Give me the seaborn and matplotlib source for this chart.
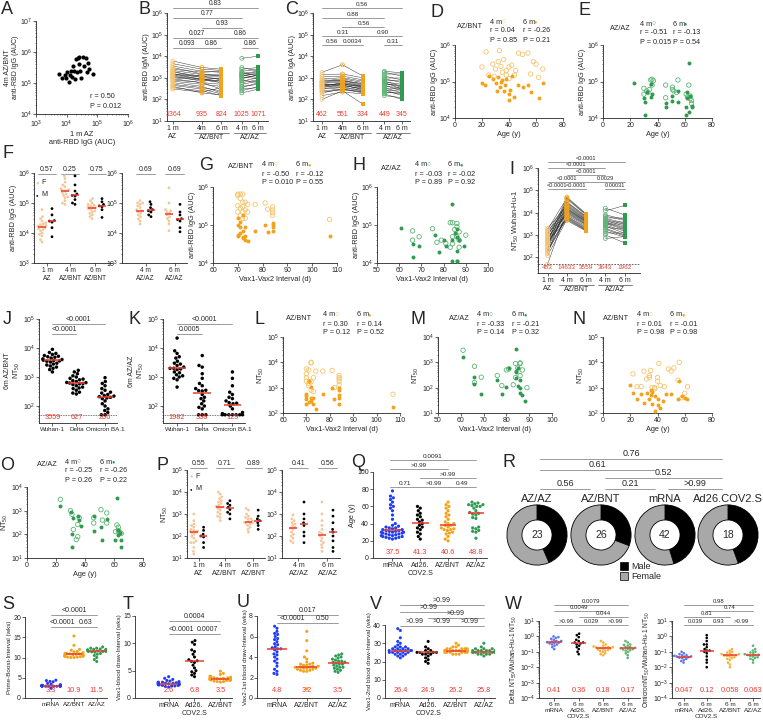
import warnings
import numpy as np
import pandas as pd
import seaborn as sns
import matplotlib.pyplot as plt
from matplotlib.patches import Patch

warnings.filterwarnings("ignore")

ORANGE = "#F2A31B"
ORANGE_L = "#F7C46E"
GREEN = "#2F9A50"
GREEN_L = "#5DB574"
PEACH = "#F4C79B"
BLUE = "#1E3CF5"
RED = "#EC3B2E"
GREY = "#A8A8A8"

# ---------------- data ----------------
# A: 1 m AZ IgG vs 4 m AZ/BNT IgG
A_1m = [5.5e3, 7e3, 8.5e3, 9.5e3, 1.0e4, 1.2e4, 1.3e4, 1.4e4, 1.5e4, 1.6e4, 1.7e4, 1.9e4, 2.0e4,
        2.1e4, 2.3e4, 2.5e4, 2.6e4, 2.8e4, 3.0e4, 3.4e4, 3.8e4, 4.2e4, 4.5e4, 5.0e4, 5.5e4, 7.0e4]
A_4m = [1.9e5, 1.4e5, 1.8e5, 1.5e5, 2.2e5, 1.1e5, 1.8e5, 2.4e5, 1.6e5, 3.5e5, 2.5e5, 1.3e5, 6e5,
        2.3e5, 6.5e5, 4e5, 7e5, 2.4e5, 1.4e5, 7e5, 3.5e5, 6.5e5, 2.2e5, 4.5e5, 2.8e5, 2.0e5]

# B: IgM, paired
B_1m = [6000, 1500, 4500, 900, 3500, 1100, 3000, 700, 2500, 2200, 450, 2000, 1800, 1600, 600, 1400,
        1300, 1200, 350, 1000, 800, 500, 400, 300]
B_4m = [3000, 1200, 2500, 600, 2000, 900, 1500, 500, 1800, 1400, 300, 1000, 1200, 800, 400, 1100,
        900, 700, 250, 800, 600, 350, 200, 220]
B_6m = [2500, 800, 2200, 300, 1800, 600, 1200, 400, 2000, 1500, 180, 900, 1300, 1000, 200, 1100,
        700, 800, 150, 600, 500, 250, 160, 350]
B_az4 = [8000, 3000, 2500, 2000, 1800, 1500, 1400, 1300, 1200, 1100, 1000, 900, 800, 700, 600, 500,
         400, 350, 300, 250, 200, 1600]
B_az6 = [10000, 2000, 3000, 2500, 1200, 1800, 1000, 1500, 1700, 900, 1300, 1400, 600, 1000, 800, 700,
         500, 600, 350, 400, 300, 2000]
B_gm = ["1364", "935", "824", "1025", "1071"]

# C: IgA, paired
C_1m = [1800, 400, 1400, 700, 1100, 200, 900, 650, 800, 100, 600, 480, 550, 450, 420, 380, 350, 320,
        300, 250, 220, 150, 500]
C_4m = [4000, 600, 1500, 900, 1200, 300, 1000, 800, 750, 250, 700, 520, 650, 550, 450, 420, 500, 380,
        350, 300, 280, 220, 480]
C_6m = [1200, 400, 1000, 600, 800, 200, 700, 500, 450, 60, 550, 350, 420, 380, 300, 330, 400, 260,
        250, 230, 220, 180, 280]
C_az4 = [2000, 1800, 1500, 1200, 1000, 900, 800, 700, 650, 600, 550, 500, 450, 400, 350, 300, 280,
         250, 220, 200, 180, 150]
C_az6 = [1700, 1200, 1500, 800, 1000, 600, 700, 400, 500, 300, 380, 450, 250, 350, 200, 320, 150, 280,
         180, 220, 100, 120]
C_gm = ["462", "551", "334", "449", "345"]

# D: AZ/BNT IgG vs age
D_age4 = [20, 23, 25, 28, 30, 32, 33, 35, 36, 38, 40, 40, 42, 44, 47, 50, 54, 56, 58, 60, 62, 65, 38, 34, 45, 29]
D_igg4 = [2.5e5, 6.5e5, 1.5e5, 3e5, 2.2e5, 3.5e5, 7e5, 1.8e5, 4e5, 1.5e5, 2.5e5, 1.2e5, 2.8e5, 1.5e5,
          6e5, 5.5e5, 6e5, 1.6e5, 3.5e5, 3e5, 1.3e5, 2.2e5, 2.0e5, 2.6e5, 2.0e5, 1.4e5]
D_age6 = [20, 22, 25, 28, 30, 32, 33, 35, 36, 38, 40, 40, 41, 44, 47, 50, 54, 56, 62, 65, 34, 31, 37, 42]
D_igg6 = [9e4, 8e4, 1.4e5, 1.2e5, 9e4, 1.3e5, 7e4, 1.1e5, 5.5e4, 1.2e5, 4.5e4, 3.2e4, 6e4, 3.8e4, 8e4,
          7e4, 8e4, 5e4, 3.5e4, 9e4, 1.0e5, 5.5e4, 8e4, 1.4e5]

# E: AZ/AZ IgG vs age
E_age4 = [30, 32, 33, 35, 36, 37, 46, 46, 51, 51, 55, 54, 63, 64, 64, 65, 65, 62, 61, 34, 30, 52, 36]
E_igg4 = [6.5e4, 5.5e4, 5e4, 1.1e5, 8e4, 1.05e5, 8e4, 3.6e4, 7e4, 6e4, 1.1e5, 5e4, 8e4, 4e4, 3.4e4,
          3e4, 2.5e4, 3.8e4, 4.5e4, 6e4, 4.5e4, 5.5e4, 1.15e5]
E_age6 = [23, 30, 31, 31, 32, 35, 35, 36, 46, 46, 51, 51, 55, 55, 61, 61, 62, 63, 63, 64, 65, 65, 62]
E_igg6 = [9e4, 3.5e4, 1.2e4, 2.8e4, 5e4, 8.5e4, 3.8e4, 4.5e4, 2.6e4, 2e4, 4e4, 3e4, 5.5e4, 2.8e4,
          1.2e4, 2e4, 5e4, 3.3e5, 1.5e4, 4e4, 2e4, 2.2e4, 3.5e4]

# F: IgG by sex
F_1m_F = [6e4, 3.5e4, 3e4, 2.5e4, 2.2e4, 2e4, 1.9e4, 1.8e4, 1.7e4, 1.6e4, 1.5e4, 1.4e4, 1.3e4, 1.2e4,
          1e4, 9e3, 8e3, 6e3, 5e3]
F_1m_M = [6.5e4, 4e4, 2.6e4, 2.5e4, 2.3e4, 1.5e4, 7.5e3]
F_4m_F = [8e5, 6.5e5, 5e5, 4e5, 3.5e5, 3e5, 2.8e5, 2.6e5, 2.5e5, 2.2e5, 2e5, 1.8e5, 1.6e5, 1.5e5,
          1.2e5, 1e5, 9e4, 2.7e5]
F_4m_M = [8e5, 4e5, 2.5e5, 2e5, 1.8e5, 1.7e5, 1.3e5, 1.0e5, 9e4]
F_6m_F = [1.4e5, 1.2e5, 1e5, 9e4, 8e4, 7.5e4, 7e4, 6.5e4, 6e4, 5.5e4, 5e4, 4.5e4, 4e4, 3.5e4, 8.5e4,
          7e4, 3e4]
F_6m_M = [1.4e5, 1.1e5, 9e4, 8e4, 7.5e4, 6e4, 3.3e4]
F_az4_F = [1.2e5, 1e5, 9e4, 8e4, 7e4, 6e4, 5.5e4, 5e4, 4.5e4, 4e4, 3.5e4, 3e4, 2.5e4, 2e4, 1e5]
F_az4_M = [1.1e5, 9e4, 7e4, 6e4, 5.5e4, 5e4, 4e4, 3.5e4]
F_az6_F = [3.2e5, 1e5, 6e4, 5e4, 4.5e4, 4e4, 3.5e4, 3e4, 2.5e4, 2e4, 1.2e4, 5.5e4]
F_az6_M = [9e4, 5e4, 4e4, 3e4, 2.8e4, 2.5e4, 1.5e4, 1.1e4]

# G: AZ/BNT IgG vs Vax1-Vax2 interval
G_int4 = [70, 70, 71, 71, 72, 72, 72, 73, 73, 74, 74, 77, 81, 82, 84, 84, 84, 84, 107, 70, 71, 72, 73, 71, 70, 72]
G_igg4 = [6.5e5, 6e5, 6.5e5, 5e5, 4e5, 3e5, 6.5e5, 4e5, 2.5e5, 3.5e5, 2.2e5, 3.5e5, 3.8e5, 2.6e5, 3e5,
          2.5e5, 2.1e5, 1.8e5, 1.4e5, 2.2e5, 1.8e5, 1.5e5, 1.5e5, 2.8e5, 3.2e5, 2.2e5]
G_int6 = [70, 70, 70, 71, 71, 72, 72, 72, 73, 73, 74, 77, 81, 82, 84, 84, 84, 84, 107, 71, 70, 72, 73]
G_igg6 = [1.5e5, 1e5, 5e4, 9e4, 6e4, 4.5e4, 1.8e5, 7e4, 4e4, 5e4, 3.8e4, 7e4, 1.0e5, 6.5e4, 1.1e5, 9e4,
          1.0e5, 7e4, 5e4, 1.2e5, 5.5e4, 4.8e4, 9e4]

# H: AZ/AZ IgG vs interval
H_int4 = [66, 66, 69, 75, 77, 79, 81, 83, 84, 85, 86, 86, 87, 87, 90, 84, 84, 83, 86, 87]
H_igg4 = [7e4, 4e4, 4.9e4, 8e4, 3.5e4, 4e4, 3.3e4, 1.15e5, 1.15e5, 7.6e4, 4.9e4, 1.1e5, 6.6e4, 4e4,
          5.4e4, 4.9e4, 3.2e4, 2.6e4, 9e4, 2.6e4]
H_int6 = [61, 66, 66, 69, 76, 78, 80, 81, 84, 85, 86, 86, 86, 87, 86, 84, 89, 86, 84]
H_igg6 = [8.5e4, 3.1e4, 1.4e4, 2.8e4, 5.4e4, 2e4, 4e4, 2.8e4, 3.5e5, 6e4, 4.9e4, 2.1e4, 1.15e4, 4e4,
          1.1e4, 1.1e4, 2.8e4, 8e4, 4e4]

# I: NT50 Wuhan-Hu-1, paired
I_1m = [500, 1800, 300, 1300, 150, 1000, 900, 2000, 700, 250, 600, 1500, 50, 450, 400, 350, 1200, 800,
        220, 200, 180, 650, 120, 550]
I_4m = [50000, 45000, 40000, 30000, 28000, 25000, 22000, 20000, 18000, 16000, 15000, 14000, 13000,
        12000, 11000, 10000, 9000, 8000, 7000, 6500, 6000, 5500, 5000, 4500]
I_6m = [9000, 8500, 8000, 7000, 6500, 6000, 5500, 5000, 4800, 4500, 4200, 4000, 3800, 3500, 3200, 3000,
        2800, 2500, 2200, 2000, 1800, 1700, 1600, 1500]
I_az4 = [16000, 12000, 8000, 7000, 6000, 5500, 5000, 4500, 4000, 3800, 3500, 3200, 3000, 2800, 2500,
         2200, 2000, 1800, 1500, 1200, 1000, 700]
I_az6 = [8000, 21000, 5000, 4500, 6000, 3500, 3000, 2500, 4000, 2200, 2000, 1800, 3000, 1500, 1200,
         1800, 1000, 900, 800, 1200, 450, 850]
I_gm = ["453", "14633", "3559", "3643", "1962"]

# J, K: variants at 6 m
J_wuhan = [9000, 7000, 6500, 6000, 5500, 5000, 4800, 4500, 4200, 4000, 3800, 3600, 3500, 3300, 3000,
           2800, 2600, 2400, 2200, 2000, 1800, 1500, 3700, 5200]
J_delta = [1700, 1500, 1300, 1100, 1000, 900, 850, 800, 750, 700, 650, 620, 600, 580, 550, 500, 450, 420,
           400, 350, 300, 280, 260, 640]
J_omicron = [950, 700, 600, 500, 400, 350, 300, 280, 250, 220, 210, 200, 180, 150, 120, 100, 80, 70, 60,
             50, 50, 230, 190]
J_med = ["3559", "627", "206"]
K_wuhan = [22000, 8000, 6500, 5000, 4500, 3500, 3000, 2800, 2500, 2200, 2000, 2000, 1900, 1800, 1500,
           1400, 1200, 1100, 1000, 900, 800, 450]
K_delta = [5500, 2500, 2200, 1300, 900, 600, 500, 400, 350, 340, 330, 250, 200, 180, 150, 120, 100, 90,
           80, 50, 50, 50]
K_omicron = [1500, 900, 500, 300, 250, 200, 180, 150, 130, 125, 120, 100, 80, 60, 55, 50, 50, 50, 50,
             50, 50, 50]
K_med = ["1982", "336", "125"]
VARIANTS = ["Wuhan-1", "Delta", "Omicron BA.1"]

# L: AZ/BNT NT50 vs interval
L_int4 = [70, 70, 70, 71, 72, 72, 73, 74, 77, 81, 84, 84, 84, 84, 107, 71, 72, 70, 73, 71, 84, 82, 72]
L_nt4 = [5500, 3500, 2500, 5000, 9500, 10000, 2500, 4500, 4500, 4800, 3000, 2500, 2200, 1800, 550, 1200,
         800, 1800, 700, 1500, 1300, 1000, 1700]
L_int6 = [70, 70, 70, 71, 71, 72, 72, 73, 74, 77, 81, 82, 84, 84, 84, 84, 84, 107, 70, 71, 73, 72]
L_nt6 = [550, 350, 220, 1800, 1800, 400, 300, 220, 150, 550, 950, 350, 1000, 800, 500, 400, 230, 170,
         450, 280, 380, 1100]

# M: AZ/AZ NT50 vs interval
M_int4 = [61, 66, 66, 69, 76, 78, 80, 81, 84, 85, 86, 86, 86, 87, 89, 84, 83]
M_nt4 = [3000, 700, 160, 260, 300, 120, 500, 550, 900, 600, 900, 950, 300, 500, 100, 250, 130]
M_int6 = [61, 66, 66, 69, 76, 78, 80, 81, 84, 84, 84, 85, 85, 86, 86, 86, 87, 88, 84]
M_nt6 = [1600, 270, 140, 55, 200, 55, 110, 580, 3500, 400, 250, 600, 120, 200, 100, 60, 50, 30, 450]

# N: AZ/BNT NT50 vs age
N_age4 = [22, 25, 28, 30, 32, 34, 35, 36, 38, 40, 40, 41, 42, 45, 48, 50, 52, 55, 56, 58, 60, 62, 34, 38]
N_nt4 = [3500, 1100, 1100, 4500, 2200, 2500, 4800, 1000, 1000, 2500, 1800, 9000, 1200, 1100, 5500, 4500,
         6000, 2000, 10000, 400, 600, 1100, 3000, 900]
N_age6 = [20, 22, 25, 28, 30, 32, 34, 35, 35, 36, 38, 38, 40, 40, 42, 44, 46, 50, 55, 56, 58, 60, 62, 36]
N_nt6 = [1300, 600, 350, 550, 250, 600, 350, 800, 500, 230, 450, 120, 350, 200, 160, 300, 550, 550, 350,
         1800, 450, 400, 350, 700]

# O: AZ/AZ NT50 vs age
O_age4 = [23, 30, 31, 32, 34, 35, 35, 36, 46, 46, 51, 52, 55, 55, 61, 62, 63, 64, 65, 63]
O_nt4 = [3000, 1000, 700, 160, 60, 80, 260, 500, 300, 500, 1100, 400, 800, 300, 130, 250, 140, 120, 110, 200]
O_age6 = [23, 30, 31, 31, 32, 35, 36, 37, 46, 46, 51, 52, 55, 61, 62, 63, 63, 64, 65, 65]
O_nt6 = [1600, 900, 100, 30, 500, 600, 400, 220, 600, 140, 200, 55, 450, 55, 3500, 150, 90, 110, 60, 30]

# P: NT50 by sex
P_1m_F = [1000, 500, 300, 250, 200, 180, 170, 160, 150, 140, 120, 100, 80, 60, 50, 50, 30, 20, 15, 350]
P_1m_M = [250, 180, 120, 100, 90, 50, 30]
P_4m_F = [10000, 8000, 6000, 5000, 4000, 3500, 3000, 2500, 2200, 2000, 1800, 1500, 1200, 1000, 800, 700,
          500, 2100]
P_4m_M = [4000, 3000, 2500, 2000, 1600, 1200, 1000, 600]
P_6m_F = [1800, 1500, 1000, 800, 700, 600, 500, 450, 420, 400, 380, 350, 300, 250, 200, 150, 600]
P_6m_M = [1500, 800, 600, 500, 400, 300, 200]
P_az4_F = [900, 600, 500, 400, 350, 300, 250, 230, 200, 150, 120, 100, 80, 60, 50]
P_az4_M = [3500, 1000, 600, 400, 300, 150, 100, 50]
P_az6_F = [3500, 1000, 500, 300, 200, 150, 130, 100, 80, 60, 50, 40, 30, 20]
P_az6_M = [1500, 800, 400, 200, 150, 100, 60, 30, 20]

# Q: age per vaccine group
Q_mrna = [78, 72, 70, 68, 65, 62, 60, 58, 55, 50, 45, 40, 38, 37, 36, 35, 35, 34, 33, 33, 32, 32, 31, 31,
          30, 30, 30, 29, 29, 28, 28, 27, 27, 26, 26, 25, 25, 24, 24, 23, 23, 22]
Q_ad26 = [58, 55, 52, 50, 48, 45, 44, 42, 40, 38, 36, 35, 33, 30, 28, 25, 22, 60]
Q_azbnt = [65, 62, 60, 58, 55, 52, 50, 48, 45, 42, 40, 38, 36, 35, 34, 33, 32, 30, 28, 25, 22, 20, 33, 38,
           29, 40]
Q_azaz = [65, 64, 63, 62, 61, 60, 58, 55, 53, 52, 51, 50, 47, 46, 36, 35, 34, 32, 31, 30, 23, 60, 62]
Q_mean = ["37.5", "41.3", "40.6", "48.8"]

# R: sex distribution
R_groups = ["AZ/AZ", "AZ/BNT", "mRNA", "Ad26.COV2.S"]
R_n = [23, 26, 42, 18]
R_male = [10, 8, 19, 8]

# S-V: intervals (weeks)
S_mrna = [3.0, 3.0, 3.0, 3.0, 3.0, 3.0, 3.0, 3.0, 3.0, 3.0, 3.0, 3.0, 3.1, 3.1, 3.1, 3.1, 3.1, 3.1, 3.0,
          3.0, 3.0, 3.0, 3.0, 3.3, 3.4, 3.6, 4.0, 4.1, 4.3, 4.4, 2.9, 2.9, 2.9, 2.9, 2.4, 3.0, 3.0, 3.0,
          3.1, 3.0, 3.0, 3.0]
S_azbnt = [15.3, 13.0, 12.0, 11.8, 11.5, 11.2, 11.0, 11.0, 10.9, 10.8, 10.7, 10.6, 10.5, 10.5, 10.4, 10.3,
           10.2, 10.1, 10.0, 10.0, 11.4, 10.9, 10.6, 10.3, 10.1, 11.0]
S_azaz = [12.6, 12.3, 12.3, 12.0, 12.0, 11.9, 11.8, 11.7, 11.6, 11.5, 11.5, 11.4, 11.3, 11.0, 10.8, 10.5,
          10.0, 9.5, 9.0, 11.8, 12.1, 11.7, 11.5]
S_mean = ["3.3", "10.9", "11.5"]
T_mrna = [3.9, 3.6, 3.4, 3.2, 3.0, 2.9, 2.8, 2.8, 2.7, 2.7, 2.6, 2.6, 2.6, 2.5, 2.5, 2.4, 2.4, 2.3, 2.3,
          2.2, 2.2, 2.1, 2.0, 2.7, 2.9, 2.5, 2.6, 2.4, 3.1, 2.8]
T_ad26 = [10.5, 10.2, 9.8, 8.8, 8.5, 8.0, 7.5, 7.0, 6.8, 6.7, 6.5, 6.0, 5.5, 5.0, 4.8, 4.5, 4.2, 3.9]
T_azbnt = [4.9, 4.5, 4.3, 4.0, 3.9, 3.8, 3.7, 3.6, 3.6, 3.5, 3.5, 3.4, 3.4, 3.3, 3.3, 3.2, 3.1, 3.0, 3.0,
           2.9, 3.5, 3.6, 3.4, 3.7, 3.2, 3.8]
T_mean = ["2.6", "6.8", "3.5"]
U_mrna = [7.0, 6.8, 6.5, 6.3, 6.2, 6.0, 5.8, 5.7, 5.5, 5.3, 5.2, 5.0, 4.9, 4.8, 4.7, 4.5, 4.3, 4.2, 4.0,
          3.8, 3.6, 3.4, 3.1, 2.8, 2.6, 2.4, 2.3, 4.8]
U_azbnt = [6.5, 5.6, 4.6, 4.0, 3.8, 3.5, 3.3, 3.2, 3.2, 3.1, 3.1, 3.0, 3.0, 3.0, 2.9, 2.9, 2.9, 2.8, 2.8,
           2.7, 2.7, 2.6, 2.6, 0.9, 3.3, 3.4]
U_azaz = [4.3, 4.2, 4.1, 4.0, 3.9, 3.8, 3.7, 3.6, 3.5, 3.5, 3.4, 3.3, 3.2, 3.1, 3.0, 2.9, 2.8, 2.7, 2.6,
          2.5, 3.6, 3.3, 3.0]
U_mean = ["4.8", "3.2", "3.5"]
V_mrna = [38, 37, 33, 31, 30, 29, 28, 28, 27, 27, 27, 26, 26, 26, 26, 25, 25, 25, 25, 24, 24, 24, 23, 23,
          22, 27, 26, 28, 25, 26]
V_ad26 = [31, 28, 27, 26, 26, 25, 25, 25, 25, 24, 24, 24, 23, 22, 21, 20, 19, 25]
V_azbnt = [30, 29, 28, 27, 27, 27, 26, 26, 26, 26, 26, 26, 25, 25, 25, 25, 25, 24, 24, 24, 27, 26, 25, 26,
           27, 28]
V_azaz = [30, 28, 27, 27, 26, 26, 26, 26, 25, 25, 25, 25, 25, 25, 24, 24, 24, 23, 26, 27, 25, 26, 24]
V_mean = ["26.4", "24.9", "26.2", "25.8"]

# W: variant / Wuhan ratios
Wd_mrna = [1.0, 0.9, 0.8, 0.7, 0.6, 0.5, 0.45, 0.42, 0.4, 0.38, 0.35, 0.3, 0.25, 0.2, 0.15, 0.5, 0.3]
Wd_ad26 = [1.5, 1.2, 0.9, 0.6, 0.5, 0.4, 0.35, 0.3, 0.25, 0.2, 0.15, 0.1, 0.07, 0.4]
Wd_azbnt = [0.5, 0.4, 0.3, 0.25, 0.22, 0.2, 0.18, 0.17, 0.16, 0.15, 0.14, 0.12, 0.1, 0.08, 0.07, 0.06,
            0.2, 0.19, 0.13, 0.11]
Wd_azaz = [0.5, 0.4, 0.3, 0.28, 0.25, 0.2, 0.18, 0.17, 0.16, 0.15, 0.13, 0.12, 0.1, 0.08, 0.06, 0.04, 0.2, 0.14]
Wd_med = ["0.41", "0.36", "0.18", "0.17"]
Wo_mrna = [0.1, 0.08, 0.07, 0.06, 0.055, 0.05, 0.048, 0.045, 0.042, 0.04, 0.035, 0.03, 0.025, 0.02, 0.05, 0.06]
Wo_ad26 = [1.2, 0.8, 0.5, 0.3, 0.2, 0.15, 0.12, 0.12, 0.1, 0.08, 0.05, 0.03, 0.02, 0.01, 0.3]
Wo_azbnt = [0.15, 0.12, 0.1, 0.09, 0.08, 0.07, 0.06, 0.058, 0.055, 0.05, 0.045, 0.04, 0.035, 0.03, 0.02,
            0.015, 0.01, 0.06, 0.07]
Wo_azaz = [0.25, 0.15, 0.12, 0.1, 0.09, 0.08, 0.07, 0.065, 0.063, 0.06, 0.055, 0.05, 0.045, 0.04, 0.035,
           0.03, 0.02, 0.07]
Wo_med = ["0.047", "0.12", "0.058", "0.063"]

# ---------------- style ----------------
sns.set_style("ticks")
plt.rcParams["font.family"] = ["Liberation Sans", "DejaVu Sans"]
plt.rcParams.update({
    "mathtext.fontset": "custom", "mathtext.rm": "Liberation Sans",
    "mathtext.it": "Liberation Sans:italic", "mathtext.bf": "Liberation Sans:bold",
    "font.size": 5, "axes.linewidth": 0.6, "axes.edgecolor": "0.15",
    "xtick.major.size": 2, "ytick.major.size": 2, "xtick.minor.size": 1, "ytick.minor.size": 1,
    "xtick.major.width": 0.5, "ytick.major.width": 0.5, "xtick.minor.width": 0.4, "ytick.minor.width": 0.4,
    "xtick.labelsize": 5, "ytick.labelsize": 5, "axes.labelsize": 5.3,
    "axes.labelpad": 0.8, "xtick.major.pad": 1.2, "ytick.major.pad": 0.8,
    "xtick.color": "0.15", "ytick.color": "0.15",
})

W, H = 763, 722
fig = plt.figure(figsize=(W / 100, H / 100), dpi=100)
ov = fig.add_axes([0, 0, 1, 1], zorder=20)
ov.set_xlim(0, W)
ov.set_ylim(H, 0)
ov.axis("off")


def txt(x, y, s, size=5.2, **kw):
    kw.setdefault("va", "center")
    ov.text(x, y, s, fontsize=size, **kw)


def panel(l, t, r, b):
    ax = fig.add_axes([l / W, 1 - b / H, (r - l) / W, (b - t) / H])
    ax.px = (l, t, r, b)
    sns.despine(ax=ax)
    return ax


def yf(ax, y):
    l, t, r, b = ax.px
    return (b - y) / (b - t)


def bracket(ax, x1, x2, y, s, size=4.6):
    tr = ax.get_xaxis_transform()
    ax.plot([x1, x2], [yf(ax, y), yf(ax, y)], transform=tr, color="0.45", lw=0.5, clip_on=False)
    ax.text((x1 + x2) / 2, yf(ax, y - 0.6), s, transform=tr, ha="center", va="bottom",
            fontsize=size, clip_on=False)


def red_row(ax, xs, labels, y, size=5.3):
    tr = ax.get_xaxis_transform()
    for x, s in zip(xs, labels):
        ax.text(x, yf(ax, y), s, transform=tr, ha="center", va="center", color=RED,
                fontsize=size, clip_on=False)


def under(ax, x1, x2, y, s):
    tr = ax.get_xaxis_transform()
    ax.plot([x1, x2], [yf(ax, y), yf(ax, y)], transform=tr, color="0.3", lw=0.5, clip_on=False)
    ax.text((x1 + x2) / 2, yf(ax, y + 1), s, transform=tr, ha="center", va="top", fontsize=5,
            clip_on=False)


def logy(ax, lo, hi, klo, khi):
    ax.set_yscale("log")
    ax.set_yticks([10.0 ** k for k in range(klo, khi + 1)])
    ax.set_ylim(lo, hi)


def dots(ax, groups, pos, colors, size=2.3, hw=0.25):
    df = pd.concat([pd.DataFrame({"x": p, "y": v, "g": str(i)})
                    for i, (p, v) in enumerate(zip(pos, groups))], ignore_index=True)
    sns.swarmplot(data=df, x="x", y="y", hue="g", orient="x", native_scale=True, size=size,
                  palette={str(i): c for i, c in enumerate(colors)}, linewidth=0, ax=ax, legend=False)
    for p, v in zip(pos, groups):
        m = np.median(v)
        ax.plot([p - hw, p + hw], [m, m], color=RED, lw=1.1, zorder=5, solid_capstyle="butt")
    ax.set_xlabel("")
    ax.set_ylabel("")


def col(ax, x, vals, c, filled):
    xs = np.full(len(vals), x)
    if filled:
        sns.scatterplot(x=xs, y=vals, ax=ax, s=6, color=c, marker="s", linewidth=0, zorder=3)
    else:
        sns.scatterplot(x=xs, y=vals, ax=ax, s=8, facecolor="none", edgecolor=c, linewidth=0.55, zorder=3)


def corr(ax, x4, y4, x6, y6, co, cf):
    sns.scatterplot(x=x4, y=y4, ax=ax, s=10, facecolor="none", edgecolor=co, linewidth=0.6, zorder=3)
    sns.scatterplot(x=x6, y=y6, ax=ax, s=8, color=cf, linewidth=0, zorder=3)


def corr_text(xg, yg, x1, x2, y0, name, stats, co, cf):
    r4, p4, r6, p6 = stats
    txt(xg, yg, name)
    txt(x1, y0, "4 m")
    txt(x1 + 11, y0, "○", color=co, size=5)
    txt(x2, y0, "6 m")
    txt(x2 + 11, y0, "●", color=cf, size=4)
    txt(x1, y0 + 9, "r = " + r4)
    txt(x2, y0 + 9, "r = " + r6)
    txt(x1, y0 + 18, "P = " + p4)
    txt(x2, y0 + 18, "P = " + p6)


def paired(ax, pos, first, second):
    for vals in zip(*first):
        ax.plot(pos[:3], vals, color="0.1", lw=0.3, zorder=1)
    for vals in zip(*second):
        ax.plot(pos[3:], vals, color="0.1", lw=0.3, zorder=1)
    col(ax, pos[0], first[0], ORANGE_L, False)
    col(ax, pos[1], first[1], ORANGE, False)
    col(ax, pos[2], first[2], ORANGE, True)
    col(ax, pos[3], second[0], GREEN_L, False)
    col(ax, pos[4], second[1], GREEN, True)


# panel letters
for s, x, y in [("A", 1, 1), ("B", 139, 1), ("C", 285, 1), ("D", 431, 4), ("E", 579, 2),
                ("F", 2, 145), ("G", 199, 157), ("H", 352, 157), ("I", 509, 161),
                ("J", 3, 311), ("K", 128, 311), ("L", 255, 311), ("M", 410, 311), ("N", 572, 311),
                ("O", 0, 457), ("P", 157, 457), ("Q", 351, 454), ("R", 502, 454),
                ("S", 2, 596), ("T", 123, 596), ("U", 237, 594), ("V", 370, 596), ("W", 505, 596)]:
    txt(x, y, s, size=13, va="top")

# ---- A ----
ax = panel(36, 21, 128, 114)
ax.set_xscale("log")
ax.set_yscale("log")
sns.scatterplot(x=A_1m, y=A_4m, ax=ax, s=9, color="black", linewidth=0)
ax.set_xticks([1e3, 1e4, 1e5, 1e6])
ax.set_xlim(1e3, 1e6)
logy(ax, 1e4, 1e7, 4, 7)
ax.set_xlabel("1 m AZ\nanti-RBD IgG (AUC)")
ax.set_ylabel("4m AZ/BNT\nanti-RBD IgG (AUC)", fontsize=5, labelpad=0.3)
txt(90, 97, "r = 0.50")
txt(90, 106, "P = 0.012")

# ---- B ----
ax = panel(167, 13, 268, 121)
ax.set_yscale("log")
bx = [0, 1.5, 2.5, 3.55, 4.4]
paired(ax, bx, [B_1m, B_4m, B_6m], [B_az4, B_az6])
logy(ax, 10, 1e6, 1, 6)
ax.set_xlim(-0.3, 4.9)
ax.set_xticks(bx, ["1 m\nAZ", "4m", "6 m", "4 m", "6 m"])
ax.set_ylabel("anti-RBD IgM (AUC)")
red_row(ax, bx, B_gm, 115, size=5)
under(ax, bx[1] - 0.4, bx[2] + 0.4, 133, "AZ/BNT")
under(ax, bx[3] - 0.4, bx[4] + 0.4, 133, "AZ/AZ")
for a, b, y, s in [(0, 4, 8, "0.83"), (0, 3, 18, "0.77"), (1, 3, 28, "0.93"), (0, 2, 38, "0.027"),
                   (2, 4, 38, "0.86"), (0, 1, 48, "0.093"), (1, 2, 48, "0.86"), (3, 4, 48, "0.86")]:
    bracket(ax, bx[a], bx[b], y, s, size=4.8)

# ---- C ----
ax = panel(313, 13, 410, 121)
ax.set_yscale("log")
cx = [0, 1, 2, 3.05, 3.9]
paired(ax, cx, [C_1m, C_4m, C_6m], [C_az4, C_az6])
logy(ax, 10, 1e6, 1, 6)
ax.set_xlim(-0.44, 4.3)
ax.set_xticks(cx, ["1 m\nAZ", "4m", "6 m", "4 m", "6 m"])
ax.set_ylabel("anti-RBD IgA (AUC)")
red_row(ax, cx, C_gm, 115, size=5)
under(ax, cx[1] - 0.4, cx[2] + 0.4, 133, "AZ/BNT")
under(ax, cx[3] - 0.4, cx[4] + 0.4, 133, "AZ/AZ")
for a, b, y, s in [(0, 4, 8, "0.56"), (0, 3, 18, "0.88"), (1, 3, 27, "0.56"), (0, 2, 36, "0.31"),
                   (2, 4, 36, "0.90"), (0, 1, 45, "0.56"), (1, 2, 45, "0.0034"), (3, 4, 45, "0.31")]:
    bracket(ax, cx[a], cx[b], y, s, size=4.5)

# ---- D, E ----
for rect, data, co, cf, name, stats, tpos in [
        ((455, 45, 563, 118), (D_age4, D_igg4, D_age6, D_igg6), ORANGE_L, ORANGE, "AZ/BNT",
         ("0.04", "0.85", "-0.26", "0.21"), (457, 27, 490, 523, 22)),
        ((603, 45, 712, 118), (E_age4, E_igg4, E_age6, E_igg6), GREEN_L, GREEN, "AZ/AZ",
         ("-0.51", "0.015", "-0.13", "0.54"), (610, 28, 640, 673, 24))]:
    ax = panel(*rect)
    ax.set_yscale("log")
    corr(ax, *data, co, cf)
    logy(ax, 1e4, 1e6, 4, 6)
    ax.set_xlim(0, 80)
    ax.set_xticks([0, 20, 40, 60, 80])
    ax.set_xlabel("Age (y)")
    ax.set_ylabel("anti-RBD IgG (AUC)")
    corr_text(tpos[0], tpos[1], tpos[2], tpos[3], tpos[4], name, stats, co, cf)

# ---- F ----
axl = panel(34, 173, 112, 263)
axr = panel(122, 173, 187, 263)
fF, fM = [4.2, 6.5, 9.2], [5.2, 7.5, 10.2]
rF, rM = [13.8, 16.7], [14.9, 17.8]
for ax in (axl, axr):
    ax.set_yscale("log")
dots(axl, [F_1m_F, F_1m_M, F_4m_F, F_4m_M, F_6m_F, F_6m_M],
     [fF[0], fM[0], fF[1], fM[1], fF[2], fM[2]], [PEACH, "black"] * 3, size=2.0, hw=0.4)
dots(axr, [F_az4_F, F_az4_M, F_az6_F, F_az6_M], [rF[0], rM[0], rF[1], rM[1]],
     [PEACH, "black"] * 2, size=2.0, hw=0.4)
for ax in (axl, axr):
    logy(ax, 1e3, 1e6, 3, 6)
    ax.tick_params(axis="x", labelsize=4.7)
axl.set_xlim(3.4, 11.2)
axr.set_xlim(12.0, 18.5)
axl.set_xticks([4.7, 7.0, 9.5], ["1 m\nAZ", "4 m\nAZ/BNT", "6 m\nAZ/BNT"])
axr.set_xticks([14.35, 17.25], ["4 m\nAZ/AZ", "6 m\nAZ/AZ"])
axl.set_ylabel("anti-RBD IgG (AUC)")
for a, b, s in zip(fF, fM, ["0.57", "0.25", "0.75"]):
    bracket(axl, a - 0.4, b + 0.4, 174, s, size=5)
for a, b, s in zip(rF, rM, ["0.69", "0.69"]):
    bracket(axr, a - 0.4, b + 0.4, 174, s, size=5)
txt(37, 183, "●", color=PEACH, size=4, ha="center")
txt(41, 183, "F")
txt(37, 195, "●", color="black", size=3, ha="center")
txt(41, 195, "M")

# ---- G, H ----
for rect, data, co, cf, name, stats, tpos, xl, xt in [
        ((213, 187, 337, 263), (G_int4, G_igg4, G_int6, G_igg6), ORANGE_L, ORANGE, "AZ/BNT",
         ("-0.50", "0.010", "-0.12", "0.55"), (228, 167, 262, 296, 165), (60, 110),
         [60, 70, 80, 90, 100, 110]),
        ((377, 187, 488, 263), (H_int4, H_igg4, H_int6, H_igg6), GREEN_L, GREEN, "AZ/AZ",
         ("-0.03", "0.89", "-0.02", "0.92"), (381, 169, 415, 448, 165), (50, 100),
         [50, 60, 70, 80, 90, 100])]:
    ax = panel(*rect)
    ax.set_yscale("log")
    corr(ax, *data, co, cf)
    logy(ax, 1e4, 1e6, 4, 6)
    ax.set_xlim(*xl)
    ax.set_xticks(xt)
    ax.set_xlabel("Vax1-Vax2 Interval (d)")
    ax.set_ylabel("anti-RBD IgG (AUC)")
    corr_text(tpos[0], tpos[1], tpos[2], tpos[3], tpos[4], name, stats, co, cf)

# ---- I ----
ax = panel(538, 168, 640, 273)
ax.set_yscale("log")
ix = [0, 1, 2, 3, 4]
paired(ax, ix, [I_1m, I_4m, I_6m], [I_az4, I_az6])
ax.axhline(50, color="0.3", lw=0.6, ls=(0, (2, 1.5)), zorder=0)
logy(ax, 20, 1e6, 2, 6)
ax.set_xlim(-0.5, 4.8)
ax.set_xticks(ix, ["1 m\nAZ", "4 m", "6 m", "4 m", "6 m"])
ax.set_ylabel("NT$_{50}$ Wuhan-Hu-1")
red_row(ax, ix, I_gm, 267, size=4.6)
under(ax, ix[1] - 0.4, ix[2] + 0.4, 285, "AZ/BNT")
under(ax, ix[3] - 0.4, ix[4] + 0.4, 285, "AZ/AZ")
for a, b, y, s in [(0, 4, 162, "<0.0001"), (0, 3, 168, "<0.0001"), (1, 3, 175, "<0.0001"),
                   (0, 2, 182, "<0.0001"), (2, 4, 182, "0.0029"), (0, 1, 189, "<0.0001"),
                   (1, 2, 189, "<0.0001"), (3, 4, 189, "0.00031")]:
    bracket(ax, ix[a], ix[b], y, s, size=4.1)

# ---- J, K ----
jx = [0, 1, 2.2]
for rect, groups, meds, ylab, p2 in [
        ((39, 319, 117, 423), [J_wuhan, J_delta, J_omicron], J_med, "6m AZ/BNT\nNT$_{50}$", "<0.0001"),
        ((163, 319, 245, 423), [K_wuhan, K_delta, K_omicron], K_med, "6m AZ/AZ\nNT$_{50}$", "0.0005")]:
    ax = panel(*rect)
    ax.set_yscale("log")
    logy(ax, 26, 1e5, 2, 5)
    dots(ax, groups, jx, ["black"] * 3, size=2.5, hw=0.35)
    ax.axhline(50, color="0.3", lw=0.6, ls=(0, (1, 1)), zorder=0)
    logy(ax, 26, 1e5, 2, 5)
    ax.set_xlim(-0.56, 2.7)
    ax.set_xticks(jx, VARIANTS)
    ax.tick_params(axis="x", labelsize=4.5)
    ax.set_ylabel(ylab, fontsize=5, labelpad=0.3)
    red_row(ax, jx, meds, 418)
    bracket(ax, jx[0], jx[2], 324, "<0.0001", size=5)
    bracket(ax, jx[0], jx[1], 334, p2, size=5)

# ---- L, M, N, O ----
for rect, data, co, cf, name, stats, tpos, xl, xt, ylim, xlab in [
        ((283, 337, 400, 413), (L_int4, L_nt4, L_int6, L_nt6), ORANGE_L, ORANGE, "AZ/BNT",
         ("0.30", "0.12", "0.14", "0.52"), (286, 318, 323, 357, 315), (60, 110),
         [60, 70, 80, 90, 100, 110], (1e2, 1e5, 2, 5), "Vax1-Vax2 Interval (d)"),
        ((438, 337, 552, 413), (M_int4, M_nt4, M_int6, M_nt6), GREEN_L, GREEN, "AZ/AZ",
         ("-0.33", "0.14", "-0.21", "0.32"), (449, 319, 477, 512, 315), (50, 100),
         [50, 60, 70, 80, 90, 100], (1e1, 1e4, 1, 4), "Vax1-Vax2 Interval (d)"),
        ((603, 337, 712, 413), (N_age4, N_nt4, N_age6, N_nt6), ORANGE_L, ORANGE, "AZ/BNT",
         ("0.01", "0.98", "-0.01", "0.98"), (603, 319, 637, 670, 315), (0, 80),
         [0, 20, 40, 60, 80], (1e2, 1e5, 2, 5), "Age (y)"),
        ((27, 487, 143, 558), (O_age4, O_nt4, O_age6, O_nt6), GREEN_L, GREEN, "AZ/AZ",
         ("-0.25", "0.26", "-0.26", "0.22"), (37, 465, 65, 100, 462), (0, 80),
         [0, 20, 40, 60, 80], (1e1, 1e4, 1, 4), "Age (y)")]:
    ax = panel(*rect)
    ax.set_yscale("log")
    corr(ax, *data, co, cf)
    logy(ax, *ylim)
    ax.set_xlim(*xl)
    ax.set_xticks(xt)
    ax.set_xlabel(xlab)
    ax.set_ylabel("NT$_{50}$", labelpad=0.3)
    corr_text(tpos[0], tpos[1], tpos[2], tpos[3], tpos[4], name, stats, co, cf)

# ---- P ----
axl = panel(187, 470, 265, 558)
axr = panel(282, 470, 340, 558)
pF, pM = [19.4, 22.1, 25.0], [20.4, 23.1, 26.0]
qF, qM = [29.3, 32.2], [30.4, 33.3]
for ax in (axl, axr):
    ax.set_yscale("log")
dots(axl, [P_1m_F, P_1m_M, P_4m_F, P_4m_M, P_6m_F, P_6m_M],
     [pF[0], pM[0], pF[1], pM[1], pF[2], pM[2]], [PEACH, "black"] * 3, size=2.0, hw=0.4)
dots(axr, [P_az4_F, P_az4_M, P_az6_F, P_az6_M], [qF[0], qM[0], qF[1], qM[1]],
     [PEACH, "black"] * 2, size=2.0, hw=0.4)
for ax in (axl, axr):
    logy(ax, 1e1, 1e5, 1, 5)
axl.set_xlim(18.7, 26.7)
axr.set_xlim(28.2, 34.0)
axl.set_xticks([19.9, 22.6, 25.5], ["1 m\nAZ", "4 m\nAZ/BNT", "6 m\nAZ/BNT"])
axr.set_xticks([29.85, 32.75], ["4 m\nAZ/AZ", "6 m\nAZ/AZ"])
axl.set_ylabel("NT$_{50}$")
for a, b, s in zip(pF, pM, ["0.55", "0.71", "0.89"]):
    bracket(axl, a - 0.4, b + 0.4, 468, s, size=5)
for a, b, s in zip(qF, qM, ["0.41", "0.56"]):
    bracket(axr, a - 0.4, b + 0.4, 468, s, size=5)
txt(191, 476, "●", color=PEACH, size=4, ha="center")
txt(195, 476, "F")
txt(191, 489, "●", color="black", size=3, ha="center")
txt(195, 489, "M")

# ---- Q ----
ax = panel(373, 472, 487, 558)
qx = [0, 1, 2, 3]
dots(ax, [Q_mrna, Q_ad26, Q_azbnt, Q_azaz], qx, [BLUE, "black", ORANGE, GREEN], size=2.3, hw=0.3)
ax.set_ylim(0, 100)
ax.set_yticks([0, 20, 40, 60, 80, 100])
ax.set_xlim(-0.7, 3.4)
ax.set_xticks(qx, ["mRNA", "Ad26.\nCOV2.S", "AZ/BNT", "AZ/AZ"])
ax.set_ylabel("Age (y)")
red_row(ax, qx, Q_mean, 552)
for a, b, y, s in [(0, 3, 460, "0.0091"), (0, 2, 469, ">0.99"), (1, 3, 478, ">0.99"),
                   (0, 1, 487, "0.71"), (1, 2, 487, ">0.99"), (2, 3, 487, "0.49")]:
    bracket(ax, qx[a] - 0.1 * (a == 0), qx[b], y, s, size=4.6)

# ---- R ----
centers = [537, 601, 665, 728]
for cxp, name, n, male in zip(centers, R_groups, R_n, R_male):
    ax = panel(cxp - 31, 504, cxp + 31, 566)
    ax.pie([male, n - male], colors=["black", GREY], startangle=90, counterclock=False,
           wedgeprops=dict(width=0.5, edgecolor="black", linewidth=0.6))
    ax.set_xlim(-1.03, 1.03)
    ax.set_ylim(-1.03, 1.03)
    ax.text(0, 0, str(n), ha="center", va="center", fontsize=7.5)
    txt(cxp, 499, name, size=8, ha="center")
for x1, x2, y, s in [(540, 722, 459, "0.76"), (540, 655, 470, "0.61"), (605, 722, 478, "0.52"),
                     (540, 590, 489, "0.56"), (605, 655, 489, "0.21"), (668, 722, 489, ">0.99")]:
    ov.plot([x1, x2], [y, y], color="0.45", lw=0.5)
    txt((x1 + x2) / 2, y - 0.8, s, size=6.5, ha="center", va="bottom")
fig.legend(handles=[Patch(fc="black", ec="black", lw=0.5), Patch(fc=GREY, ec="black", lw=0.5)],
           labels=["Male", "Female"], loc="upper left", bbox_to_anchor=(620 / W, 1 - 562 / H),
           frameon=False, fontsize=6.5, handlelength=0.9, handleheight=0.9, handletextpad=0.4,
           labelspacing=0.15, borderaxespad=0, borderpad=0)

# ---- S, T, U, V ----
for rect, groups, colors, labels, pos, xl, ylim, yt, ylab, means, yred, brs, xfs in [
        ((25, 617, 107, 698), [S_mrna, S_azbnt, S_azaz], [BLUE, ORANGE, GREEN],
         ["mRNA", "AZ/BNT", "AZ/AZ"], [0, 1, 2], (-1.15, 2.45), (0, 20), [0, 5, 10, 15, 20],
         "Prime-Boost-Interval (wks)", S_mean, 691,
         [(0, 2, 615, "<0.0001"), (0, 1, 627, "<0.0001"), (1, 2, 627, "0.63")], 4.5),
        ((135, 616, 232, 698), [T_mrna, T_ad26, T_azbnt], [BLUE, "black", ORANGE],
         ["mRNA", "Ad26.\nCOV2.S", "AZ/BNT"], [0, 1, 2], (-1.3, 2.45), (0, 15), [0, 5, 10, 15],
         "Vax1-blood draw-Interval (wks)", T_mean, 690,
         [(0, 2, 621, "0.0004"), (0, 1, 634, "<0.0001"), (1, 2, 634, "0.0007")], 5),
        ((257, 616, 350, 698), [U_mrna, U_azbnt, U_azaz], [BLUE, ORANGE, GREEN],
         ["mRNA", "AZ/BNT", "AZ/AZ"], [0, 1, 2.05], (-0.67, 2.45), (0, 8), [0, 2, 4, 6, 8],
         "Vax2-1st blood draw-Interval (wks)", U_mean, 690,
         [(0, 2, 615, "0.017"), (0, 1, 623, "<0.0001"), (1, 2, 623, "0.50")], 5),
        ((385, 625, 495, 698), [V_mrna, V_ad26, V_azbnt, V_azaz], [BLUE, "black", ORANGE, GREEN],
         ["mRNA", "Ad26.\nCOV2.S", "AZ/BNT", "AZ/AZ"], [0, 1, 2, 3], (-0.55, 3.4), (0, 40),
         [0, 10, 20, 30, 40], "Vax1-2nd blood draw-Interval (wks)", V_mean, 691,
         [(0, 3, 605, ">0.99"), (0, 2, 612, ">0.99"), (1, 3, 618, ">0.99"), (0, 1, 626, ">0.99"),
          (1, 2, 626, ">0.99"), (2, 3, 626, ">0.99")], 5)]:
    ax = panel(*rect)
    dots(ax, groups, pos, colors, size=2.2, hw=0.35)
    ax.set_ylim(*ylim)
    ax.set_yticks(yt)
    ax.set_xlim(*xl)
    ax.set_xticks(pos, labels)
    ax.tick_params(axis="x", labelsize=xfs)
    ax.set_ylabel(ylab, fontsize=4.5)
    red_row(ax, pos, means, yred)
    for a, b, y, s in brs:
        bracket(ax, pos[a], pos[b], y, s, size=5)

# ---- W ----
wx = [0, 1, 2, 3]
wlab = ["6 m\nmRNA", "6 m\nAd26.\nCOV2.S", "6 m\nAZ/BNT", "6 m\nAZ/AZ"]
for rect, groups, meds, ylab, xl, brs in [
        ((539, 621, 640, 698), [Wd_mrna, Wd_ad26, Wd_azbnt, Wd_azaz], Wd_med,
         "Delta NT$_{50}$/Wuhan-Hu-1 NT$_{50}$", (-0.62, 3.5),
         [(0, 3, 605, "0.0079"), (0, 2, 611, "0.0049"), (1, 3, 617, "0.044"), (0, 1, 625, ">0.99"),
          (1, 2, 625, "0.029"), (2, 3, 625, ">0.99")]),
        ((672, 621, 760, 698), [Wo_mrna, Wo_ad26, Wo_azbnt, Wo_azaz], Wo_med,
         "OmicronNT$_{50}$/Wuhan-Hu-1 NT$_{50}$", (-0.5, 3.3),
         [(0, 3, 605, "0.98"), (1, 3, 611, "0.74"), (0, 2, 617, "0.81"), (0, 1, 625, "0.039"),
          (1, 2, 625, "0.93"), (2, 3, 625, ">0.99")])]:
    ax = panel(*rect)
    ax.set_yscale("log")
    logy(ax, 1e-4, 10, -4, 1)
    dots(ax, groups, wx, ["#5A78F0", "black", "#F5B240", "#5DB574"], size=1.9, hw=0.3)
    logy(ax, 1e-4, 10, -4, 1)
    ax.set_xlim(*xl)
    ax.set_xticks(wx, wlab)
    ax.tick_params(axis="x", labelsize=4.6)
    ax.set_ylabel(ylab, fontsize=4.8)
    red_row(ax, wx, meds, 690)
    for a, b, y, s in brs:
        bracket(ax, wx[a], wx[b], y, s, size=4.3)

fig.savefig("out.png", dpi=100)
